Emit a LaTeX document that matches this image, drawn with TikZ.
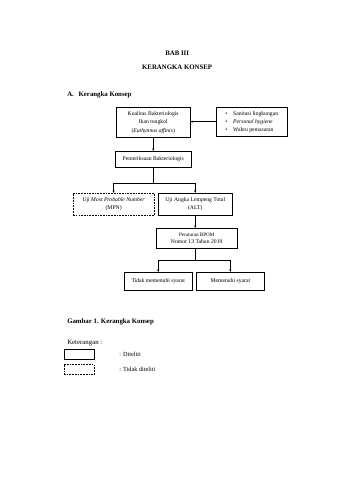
\documentclass[tikz,border=0pt]{standalone}
\usepackage{fontspec}
\setmainfont{Liberation Serif}
\usetikzlibrary{arrows.meta}

\begin{document}
\begin{tikzpicture}[>={Stealth[length=1.6mm,width=1.3mm]},line width=.9pt,
  box/.style={draw,align=center,inner sep=1pt,font=\fontsize{10}{13}\selectfont},
  dbox/.style={box,dash pattern=on 3pt off 1.8pt},
  head/.style={font=\fontsize{12}{14}\selectfont\bfseries}]
  \useasboundingbox (0,0) rectangle (21,-29.7);
  % judul bab
  \node[head] (bab) at (10.96,-3.28) {BAB III};
  \node[head] (judul) at (10.96,-4.15) {KERANGKA KONSEP};
  \node[head,anchor=west] (sub) at (4.03,-5.89) {A.\hspace{0.7em}Kerangka Konsep};
  % kerangka
  \node[box,minimum width=4.58cm,minimum height=1.86cm,font=\fontsize{10}{15}\selectfont] (kual) at (9.48,-7.56)
    {Kualitas Bakteriologis\\Ikan tongkol\\(\textit{Euthynnus affinis})};
  \node[box,align=left,minimum width=4.4cm,minimum height=1.8cm,font=\fontsize{10}{14}\selectfont] (faktor) at (15.58,-7.53)
    {\textbullet\hspace{1em}Sanitasi lingkungan\\\textbullet\hspace{1em}\textit{Personal hygiene}\\\textbullet\hspace{1em}Waktu pemasaran};
  \node[box,minimum width=4.65cm,minimum height=.99cm] (periksa) at (9.48,-9.85) {Pemeriksaan Bakteriologis};
  \node[dbox,minimum width=5.02cm,minimum height=1.36cm] (mpn) at (7.03,-12.64)
    {Uji \textit{Most Probable Number}\\(MPN)};
  \node[box,minimum width=4.58cm,minimum height=1.36cm] (alt) at (12.08,-12.64)
    {Uji Angka Lempeng Total\\(ALT)};
  \node[box,minimum width=5.02cm,minimum height=1.24cm] (bpom) at (12.17,-14.74)
    {{\fontsize{9}{12}\selectfont Peraturan BPOM}\\Nomor 13 Tahun 2019};
  \node[box,minimum width=4.2cm,minimum height=1.12cm] (tidak) at (9.79,-17.41) {Tidak memenuhi syarat};
  \node[box,line width=1.4pt,minimum width=4.2cm,minimum height=1.12cm] (syarat) at (14.25,-17.41) {Memenuhi syarat};
  \coordinate (cab1) at (9.48,-11.34);
  \coordinate (cab2) at (12.08,-16.11);
  \draw[->] (faktor.west) -- (faktor.west -| kual.east);
  \draw[->] (kual.south) -- (periksa.north);
  \draw (periksa.south) -- (cab1);
  \draw[->] (cab1) -| (mpn.north);
  \draw[->] (cab1) -| (alt.north);
  \draw[->] (alt.south) -- (alt.south |- bpom.north);
  \draw (cab2 |- bpom.south) -- (cab2);
  \draw[->] (cab2) -| (tidak.north);
  \draw[->] (cab2) -| (syarat.north);
  % keterangan
  \node[head,anchor=west] (gambar) at (4.03,-19.89) {Gambar 1. Kerangka Konsep};
  \node[anchor=west,font=\fontsize{12}{14}\selectfont] (ket) at (4.03,-21.25) {Keterangan :};
  \node[box,minimum width=1.86cm,minimum height=.62cm] (lg1) at (4.89,-21.93) {};
  \node[dbox,minimum width=1.86cm,minimum height=.62cm] (lg2) at (4.89,-22.86) {};
  \node[anchor=west,font=\fontsize{11}{13}\selectfont] (ket1) at (7.25,-21.9) {: Diteliti};
  \node[anchor=west,font=\fontsize{11}{13}\selectfont] (ket2) at (7.25,-22.86) {: Tidak diteliti};
\end{tikzpicture}
\end{document}
